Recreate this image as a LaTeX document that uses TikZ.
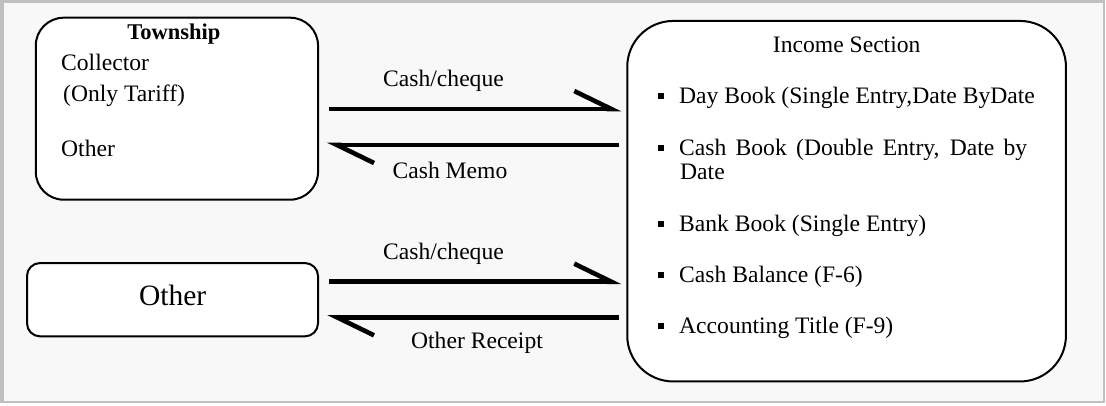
\documentclass[tikz,border=0pt]{standalone}
\usepackage{fontspec}
\setmainfont{Liberation Serif}
\usetikzlibrary{arrows.meta}
\definecolor{framegray}{RGB}{192,192,192}
\definecolor{pagebg}{RGB}{248,248,248}
\begin{document}
\begin{tikzpicture}[x=1pt,y=-1pt,
  box/.style={draw=black, line width=2pt, fill=white, inner sep=0pt},
  txt/.style={font=\fontsize{23.6}{27}\selectfont, inner sep=0pt, anchor=base west},
  lbl/.style={font=\fontsize{23.6}{27}\selectfont, inner sep=0pt, anchor=base},
  flow/.style={line width=4.6pt, line cap=butt,
    -{Straight Barb[left, length=37pt, width=36pt, line cap=butt]}},
  fwd/.style={flow, shorten <=10pt, shorten >=5pt},
  bwd/.style={flow, shorten <=7pt, shorten >=8pt}]
\useasboundingbox (0,0) rectangle (1106,405);

% page frame
\fill[white] (0,0) rectangle (1106,405);
\fill[framegray] (0,0) rectangle (1105.4,403);
\fill[pagebg] (4.3,3.3) rectangle (1102.7,401);

% boxes
\node[box, rounded corners=28pt, minimum width=282.3pt, minimum height=182pt]
  (town) at (176.9,108.7) {};
\node[box, rounded corners=13pt, minimum width=291pt, minimum height=73.3pt]
  (oth) at (172.5,299.7) {};
\node[box, rounded corners=46pt, minimum width=438.7pt, minimum height=360.5pt]
  (inc) at (846.6,201.2) {};

% township box contents
\node[lbl, font=\fontsize{22.5}{26}\selectfont\bfseries] (twn) at (173.8,39) {Township};
\node[txt] (col) at (61,70.5) {Collector};
\node[txt] (tar) at (63,101) {(Only Tariff)};
\node[txt] (oth1) at (61,156) {Other};

% other box contents
\node[lbl, font=\fontsize{29.5}{33}\selectfont] (oth2) at (172.7,305) {Other};

% income section contents
\node[lbl] (inct) at (846.7,52.7) {Income Section};
\node[txt] (i1) at (679,103) {Day Book (Single Entry,Date ByDate};
\node[txt] (i2) at (679,155) {\makebox[348pt][s]{Cash Book (Double Entry, Date by}};
\node[txt] (i2b) at (680,179) {Date};
\node[txt] (i3) at (679,231) {Bank Book (Single Entry)};
\node[txt] (i4) at (679,282) {Cash Balance (F-6)};
\node[txt] (i5) at (679,333) {Accounting Title (F-9)};
\foreach \b in {103,155,231,282,333}
  \fill (658,\b-9.7) rectangle (664,\b-3.7);

% connector levels
\coordinate (r1) at (0,109);
\coordinate (r2) at (0,145);
\coordinate (r3) at (0,281.7);
\coordinate (r4) at (0,317.3);

% connectors
\draw[fwd] (town.east |- r1) -- (inc.west |- r1);
\draw[bwd] (inc.west |- r2) -- (town.east |- r2);
\draw[fwd] (oth.east |- r3) -- (inc.west |- r3);
\draw[bwd] (inc.west |- r4) -- (oth.east |- r4);

% connector labels
\node[lbl] (l1) at (443.5,86.7) {Cash/cheque};
\node[lbl] (l2) at (450,178) {Cash Memo};
\node[lbl] (l3) at (443.5,259) {Cash/cheque};
\node[lbl] (l4) at (477,348.5) {Other Receipt};
\end{tikzpicture}
\end{document}
